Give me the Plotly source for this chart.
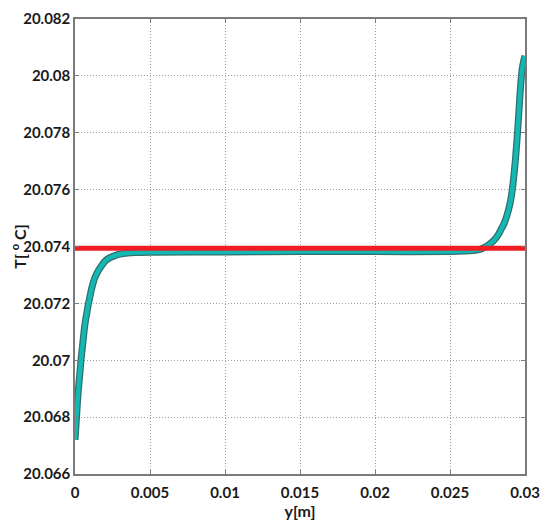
import plotly.graph_objects as go

# positions along y [m] and temperature [deg C]
y_pos = [0, 0.0001, 0.0002, 0.0003, 0.0004, 0.0005, 0.0006, 0.0007, 0.0008,
         0.0009, 0.001, 0.0011, 0.0012, 0.0013, 0.0015, 0.0017, 0.002,
         0.0023, 0.0027, 0.003, 0.0035, 0.004, 0.005, 0.01, 0.015, 0.02,
         0.025, 0.026, 0.0265, 0.027, 0.0273, 0.0276, 0.0279, 0.0282,
         0.0284, 0.0286, 0.0288, 0.029, 0.0291, 0.0292, 0.0293, 0.0294,
         0.0295, 0.0296, 0.0297, 0.0298, 0.0299, 0.03]
temp = [20.0672, 20.0680, 20.0688, 20.0694, 20.0700, 20.0705, 20.0710,
        20.0714, 20.0717, 20.0720, 20.07225, 20.0725, 20.0727, 20.07287,
        20.0731, 20.07327, 20.07348, 20.0736, 20.07369, 20.07373, 20.07377,
        20.07379, 20.0738, 20.07381, 20.07382, 20.07382, 20.07382,
        20.07384, 20.07386, 20.0739, 20.07397, 20.07407, 20.0742, 20.0744,
        20.0746, 20.0748, 20.0751, 20.0755, 20.0758, 20.0762, 20.0767,
        20.0773, 20.0780, 20.0788, 20.0796, 20.0802, 20.0805, 20.0807]

# mean temperature (red line)
mean_x = [0, 0.03]
mean_t = [20.07394, 20.07394]

x_ticks = [0, 0.005, 0.01, 0.015, 0.02, 0.025, 0.03]
x_labels = ['0', '0.005', '0.01', '0.015', '0.02', '0.025', '0.03']
y_ticks = [20.066, 20.068, 20.07, 20.072, 20.074, 20.076, 20.078, 20.08, 20.082]
y_labels = ['20.066', '20.068', '20.07', '20.072', '20.074', '20.076',
            '20.078', '20.08', '20.082']

fig = go.Figure()

# dark edge under the cyan curve
fig.add_trace(go.Scatter(x=y_pos, y=temp, mode='lines',
                         line=dict(color='#2f6f6c', width=7, shape='spline', smoothing=0.8),
                         showlegend=False, hoverinfo='skip'))
fig.add_trace(go.Scatter(x=y_pos, y=temp, mode='lines',
                         line=dict(color='#14b8b2', width=4.5, shape='spline', smoothing=0.8),
                         name='T'))
fig.add_trace(go.Scatter(x=mean_x, y=mean_t, mode='lines',
                         line=dict(color='#f01c24', width=5),
                         name='mean'))

tick_font = dict(family='Lato', size=15, color='#1a1a1a', weight='bold')
title_font = dict(family='Lato', size=16, color='#1a1a1a', weight='bold')

# the page body adds an 8px offset, so the figure is a bit smaller than the window
fig.update_layout(
    width=534, height=516,
    margin=dict(l=67, r=17, t=11, b=50),
    plot_bgcolor='white', paper_bgcolor='white',
    showlegend=False,
    font=tick_font,
)
fig.update_xaxes(range=[0, 0.03], tickvals=x_ticks, ticktext=x_labels,
                 tickfont=tick_font, automargin=False, ticklabelstandoff=4,
                 showgrid=True, gridcolor='#a0a0a0', griddash='1px,2px', gridwidth=1,
                 showline=True, linecolor='#7a7a7a', linewidth=1.5, mirror='allticks',
                 ticks='inside', ticklen=4, tickcolor='#7a7a7a',
                 zeroline=False,
                 title=dict(text='y[m]', font=title_font, standoff=0))
fig.update_yaxes(range=[20.066, 20.082], tickvals=y_ticks, ticktext=y_labels,
                 tickfont=tick_font, automargin=False,
                 showgrid=True, gridcolor='#a0a0a0', griddash='1px,2px', gridwidth=1,
                 showline=True, linecolor='#7a7a7a', linewidth=1.5, mirror='allticks',
                 ticks='inside', ticklen=4, tickcolor='#7a7a7a',
                 zeroline=False,
                 title=dict(text='T[ <sup>o</sup> C]', font=title_font, standoff=0))

fig.write_html("out.html")
